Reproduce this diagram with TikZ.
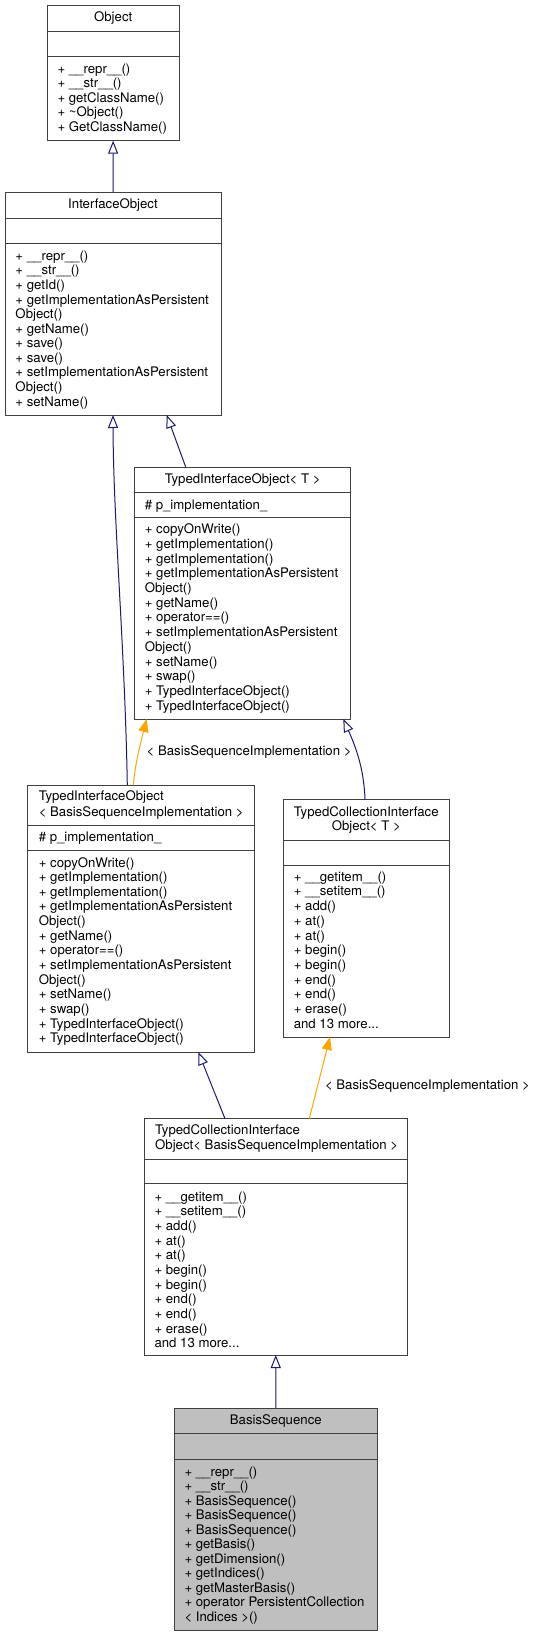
\documentclass[tikz,border=0pt]{standalone}
\usepackage{fontspec}
\setmainfont{TeX Gyre Heros}
\usetikzlibrary{arrows.meta}
\definecolor{edgeblue}{HTML}{191970}
\definecolor{edgeorange}{HTML}{FFA500}
\definecolor{boxline}{HTML}{404040}
\definecolor{hilite}{HTML}{BFBFBF}
\newcommand\mydots{...}
\tikzset{
  classbox/.style={draw=boxline, line width=1pt, inner sep=0pt, outer sep=0pt, anchor=north west},
  sepline/.style={draw=boxline, line width=1pt},
  txt/.style={inner sep=0pt, outer sep=0pt, font=\fontsize{13.2}{15}\selectfont},
  inherit/.style={draw=edgeblue, line width=1pt, -{Triangle[open, length=13pt, width=10pt]}},
  templ/.style={draw=edgeorange, line width=1pt, -{Triangle[length=13pt, width=10pt, fill=edgeorange]}},
}
\newcommand\mlist[5]{\foreach \t [count=\i] in {#5} {\node[txt, anchor=base west] (#1-\i) at (#2, {#3+(\i-1)*#4}) {\t};}}
\newcommand\mkbox[8]{%
  \node[classbox, fill=#8, minimum width={#4-#2}, minimum height={#5-#3}] (#1) at (#2,#3) {};
  \draw[sepline] (#2,#6) -- (#4,#6);
  \draw[sepline] (#2,#7) -- (#4,#7);
}
\begin{document}
\begin{tikzpicture}[x=1pt,y=-1pt]
\useasboundingbox (0,0) rectangle (536,1637);

% Object
\mkbox{obj}{47}{5.3}{179.3}{140.7}{31.5}{56.7}{white}
\node[txt, anchor=base] (obj-t) at (113.2,21.7) {Object};
\mlist{obj-m}{57.5}{73.6}{14.4}{+ \_\_repr\_\_(), + \_\_str\_\_(), + getClassName(), + \textasciitilde Object(), + GetClassName()}

% InterfaceObject
\mkbox{io}{5}{192.3}{221}{415}{218.3}{243.3}{white}
\node[txt, anchor=base] (io-t) at (113,208.7) {InterfaceObject};
\mlist{io-m}{15.5}{260.4}{14.57}{+ \_\_repr\_\_(), + \_\_str\_\_(), + getId(), + getImplementationAsPersistent, Object(), + getName(), + save(), + save(), + setImplementationAsPersistent, Object(), + setName()}

% TypedInterfaceObject< T >
\mkbox{tiot}{134.7}{467}{350.7}{719}{492.7}{517.7}{white}
\node[txt, anchor=base] (tiot-t) at (242.7,483.4) {TypedInterfaceObject< T >};
\node[txt, anchor=base west] (tiot-a) at (144.8,509.4) {\# p\_implementation\_};
\mlist{tiot-m}{144.8}{533.7}{14.7}{+ copyOnWrite(), + getImplementation(), + getImplementation(), + getImplementationAsPersistent, Object(), + getName(), + operator==(), + setImplementationAsPersistent, Object(), + setName(), + swap(), + TypedInterfaceObject(), + TypedInterfaceObject()}

% TypedInterfaceObject< BasisSequenceImplementation >
\mkbox{tiob}{27.7}{785}{254.7}{1052}{825}{850.3}{white}
\node[txt, anchor=base west] (tiob-t1) at (38.8,800.4) {TypedInterfaceObject};
\node[txt, anchor=base west] (tiob-t2) at (38.8,816) {< BasisSequenceImplementation >};
\node[txt, anchor=base west] (tiob-a) at (38.8,841.4) {\# p\_implementation\_};
\mlist{tiob-m}{38.8}{867.1}{14.63}{+ copyOnWrite(), + getImplementation(), + getImplementation(), + getImplementationAsPersistent, Object(), + getName(), + operator==(), + setImplementationAsPersistent, Object(), + setName(), + swap(), + TypedInterfaceObject(), + TypedInterfaceObject()}

% TypedCollectionInterfaceObject< T >
\mkbox{tciot}{283}{799.7}{449.7}{1037}{840}{865}{white}
\node[txt, anchor=base] (tciot-t1) at (366.3,816.4) {TypedCollectionInterface};
\node[txt, anchor=base] (tciot-t2) at (366.3,830.9) {Object< T >};
\mlist{tciot-m}{293.8}{881.1}{14.73}{+ \_\_getitem\_\_(), + \_\_setitem\_\_(), + add(), + at(), + at(), + begin(), + begin(), + end(), + end(), + erase(), and 13 more\mydots}

% TypedCollectionInterfaceObject< BasisSequenceImplementation >
\mkbox{tciob}{144}{1118.7}{407.5}{1355}{1159}{1183.7}{white}
\node[txt, anchor=base west] (tciob-t1) at (155.2,1134.7) {TypedCollectionInterface};
\node[txt, anchor=base west] (tciob-t2) at (155.2,1149.2) {Object< BasisSequenceImplementation >};
\mlist{tciob-m}{154.5}{1201.1}{14.66}{+ \_\_getitem\_\_(), + \_\_setitem\_\_(), + add(), + at(), + at(), + begin(), + begin(), + end(), + end(), + erase(), and 13 more\mydots}

% BasisSequence
\mkbox{bs}{174.3}{1408.3}{377.3}{1630.7}{1433.3}{1459}{hilite}
\node[txt, anchor=base] (bs-t) at (275.8,1424.4) {BasisSequence};
\mlist{bs-m}{184.5}{1476.1}{14.5}{+ \_\_repr\_\_(), + \_\_str\_\_(), + BasisSequence(), + BasisSequence(), + BasisSequence(), + getBasis(), + getDimension(), + getIndices(), + getMasterBasis(), + operator PersistentCollection, < Indices >()}

% edge labels
\node[txt, anchor=base west] (lab1) at (146.7,755.1) {< BasisSequenceImplementation >};
\node[txt, anchor=base west] (lab2) at (325,1089.4) {< BasisSequenceImplementation >};

% connectors
\draw[inherit] (io.north) -- (obj.south);
\draw[inherit] ([xshift=51pt]tiot.north west) -- ([xshift=161.7pt]io.south west);
\draw[inherit] ([xshift=99.6pt]tiob.north west) .. controls (125,650) and (113.3,520) .. (io.south);
\draw[templ] ([xshift=105.6pt]tiob.north west) .. controls (135,765) and (140,745) .. ([xshift=12pt]tiot.south west);
\draw[inherit] ([xshift=82pt]tciot.north west) .. controls (364,772) and (358,752) .. ([xshift=208.6pt]tiot.south west);
\draw[inherit] ([xshift=81pt]tciob.north west) -- ([xshift=170.6pt]tiob.south west);
\draw[templ] ([xshift=165.3pt]tciob.north west) -- ([xshift=47pt]tciot.south west);
\draw[inherit] (bs.north) -- (tciob.south);
\end{tikzpicture}
\end{document}
